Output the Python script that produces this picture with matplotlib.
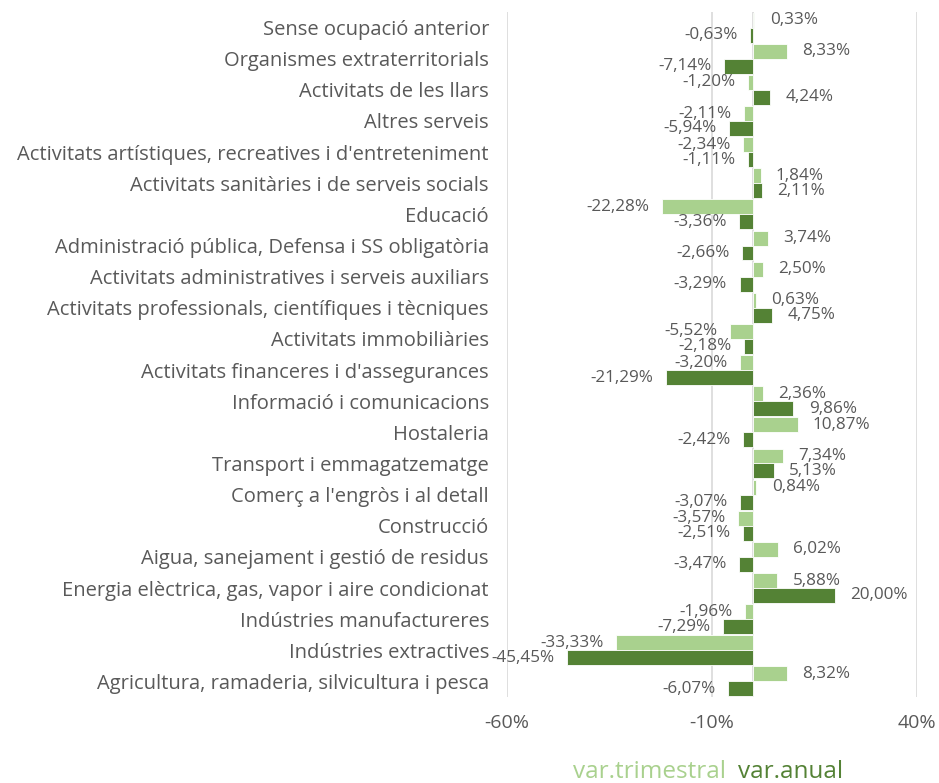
import matplotlib.pyplot as plt
import numpy as np

plt.rcParams['font.family'] = ['Open Sans', 'DejaVu Sans']

# === Data ===
sectors = [
    "Sense ocupació anterior",
    "Organismes extraterritorials",
    "Activitats de les llars",
    "Altres serveis",
    "Activitats artístiques, recreatives i d'entreteniment",
    "Activitats sanitàries i de serveis socials",
    "Educació",
    "Administració pública, Defensa i SS obligatòria",
    "Activitats administratives i serveis auxiliars",
    "Activitats professionals, científiques i tècniques",
    "Activitats immobiliàries",
    "Activitats financeres i d'assegurances",
    "Informació i comunicacions",
    "Hostaleria",
    "Transport i emmagatzematge",
    "Comerç a l'engròs i al detall",
    "Construcció",
    "Aigua, sanejament i gestió de residus",
    "Energia elèctrica, gas, vapor i aire condicionat",
    "Indústries manufactureres",
    "Indústries extractives",
    "Agricultura, ramaderia, silvicultura i pesca",
]
var_trimestral = [0.33, 8.33, -1.20, -2.11, -2.34, 1.84, -22.28, 3.74, 2.50, 0.63, -5.52,
                  -3.20, 2.36, 10.87, 7.34, 0.84, -3.57, 6.02, 5.88, -1.96, -33.33, 8.32]
var_anual = [-0.63, -7.14, 4.24, -5.94, -1.11, 2.11, -3.36, -2.66, -3.29, 4.75, -2.18,
             -21.29, 9.86, -2.42, 5.13, -3.07, -2.51, -3.47, 20.00, -7.29, -45.45, -6.07]
x_ticks = [-60, -10, 40]

light = "#a9d18e"
dark = "#548235"
grey = "#595959"

fig = plt.figure(figsize=(9.39, 7.83), dpi=100)
ax = fig.add_axes([507 / 939, 1 - 697 / 783, 410 / 939, 685 / 783])

y = np.arange(len(sectors))[::-1].astype(float)
h = 0.48

bars_t = ax.barh(y + h / 2, var_trimestral, height=h, color=light, edgecolor="white", linewidth=0.6, zorder=3)
bars_a = ax.barh(y - h / 2, var_anual, height=h, color=dark, edgecolor="white", linewidth=0.6, zorder=3)

def label_bars(bars, values):
    for bar, v in zip(bars, values):
        yc = bar.get_y() + bar.get_height() / 2
        txt = f"{v:.2f}%".replace(".", ",")
        if v >= 0:
            ax.annotate(txt, (v, yc), xytext=(11, 0), textcoords="offset points",
                        ha="left", va="center", fontsize=12.3, color=grey, zorder=5)
        else:
            ax.annotate(txt, (v, yc), xytext=(-9, 0), textcoords="offset points",
                        ha="right", va="center", fontsize=12.3, color=grey, zorder=5)

label_bars(bars_t, var_trimestral)
label_bars(bars_a, var_anual)

ax.set_xlim(-60, 40)
ax.set_ylim(-0.5, len(sectors) - 0.5)
ax.set_xticks(x_ticks)
ax.set_xticklabels([f"{t}%" for t in x_ticks])
ax.set_yticks(y)
ax.set_yticklabels(sectors)
ax.tick_params(axis="x", length=0, labelsize=14, colors=grey, pad=12)
ax.tick_params(axis="y", length=0, labelsize=14.5, colors=grey, pad=13)
for t in x_ticks:
    ax.axvline(t, color="#d9d9d9", linewidth=1.2, zorder=1)
ax.axvline(0, color="#d9d9d9", linewidth=1.2, zorder=1)
for s in ax.spines.values():
    s.set_visible(False)

# legend as coloured text only
fig.text(726 / 939, 1 - 772 / 783, "var.trimestral", color=light, fontsize=17.5, ha="right", va="center")
fig.text(738 / 939, 1 - 772 / 783, "var.anual", color=dark, fontsize=17.5, ha="left", va="center")

fig.savefig("out.png", dpi=100)
